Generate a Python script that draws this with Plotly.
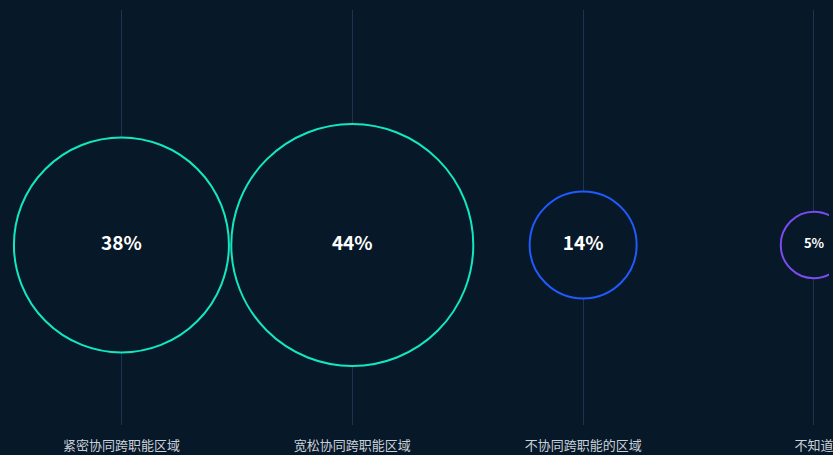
import plotly.graph_objects as go

categories = ["紧密协同跨职能区域", "宽松协同跨职能区域", "不协同跨职能的区域", "不知道"]
values = [38, 44, 14, 5]
colors = ["#12e8c0", "#12e8c0", "#1f5bff", "#7a4cf0"]
label_sizes = [19, 19, 19, 13]

BG = "#071828"
diam = [4.5 * v + 44 for v in values]

fig = go.Figure()
fig.add_trace(go.Scatter(
    x=categories,
    y=[0] * len(values),
    mode="markers+text",
    marker=dict(size=diam, sizemode="diameter", color=BG,
                line=dict(color=colors, width=2), opacity=1),
    text=[f"{v}%" for v in values],
    textposition="middle center",
    textfont=dict(color="#ffffff", size=label_sizes,
                  family="Noto Sans CJK SC, Noto Sans, sans-serif", weight="bold"),
    hoverinfo="skip",
    cliponaxis=True,
))

fig.update_layout(
    width=833, height=455,
    margin=dict(l=0, r=0, t=10, b=30),
    paper_bgcolor=BG, plot_bgcolor=BG,
    showlegend=False,
    xaxis=dict(type="category", range=[-0.526, 3.065],
               showgrid=True, gridcolor="#1d3450", gridwidth=1,
               zeroline=False, showline=False,
               ticks="outside", ticklen=8, tickcolor="rgba(0,0,0,0)",
               tickfont=dict(color="#c9d1da", size=13,
                             family="Noto Sans CJK SC, sans-serif")),
    yaxis=dict(range=[-1, 1.305], visible=False, showgrid=False, zeroline=False),
)

fig.write_html("out.html")
